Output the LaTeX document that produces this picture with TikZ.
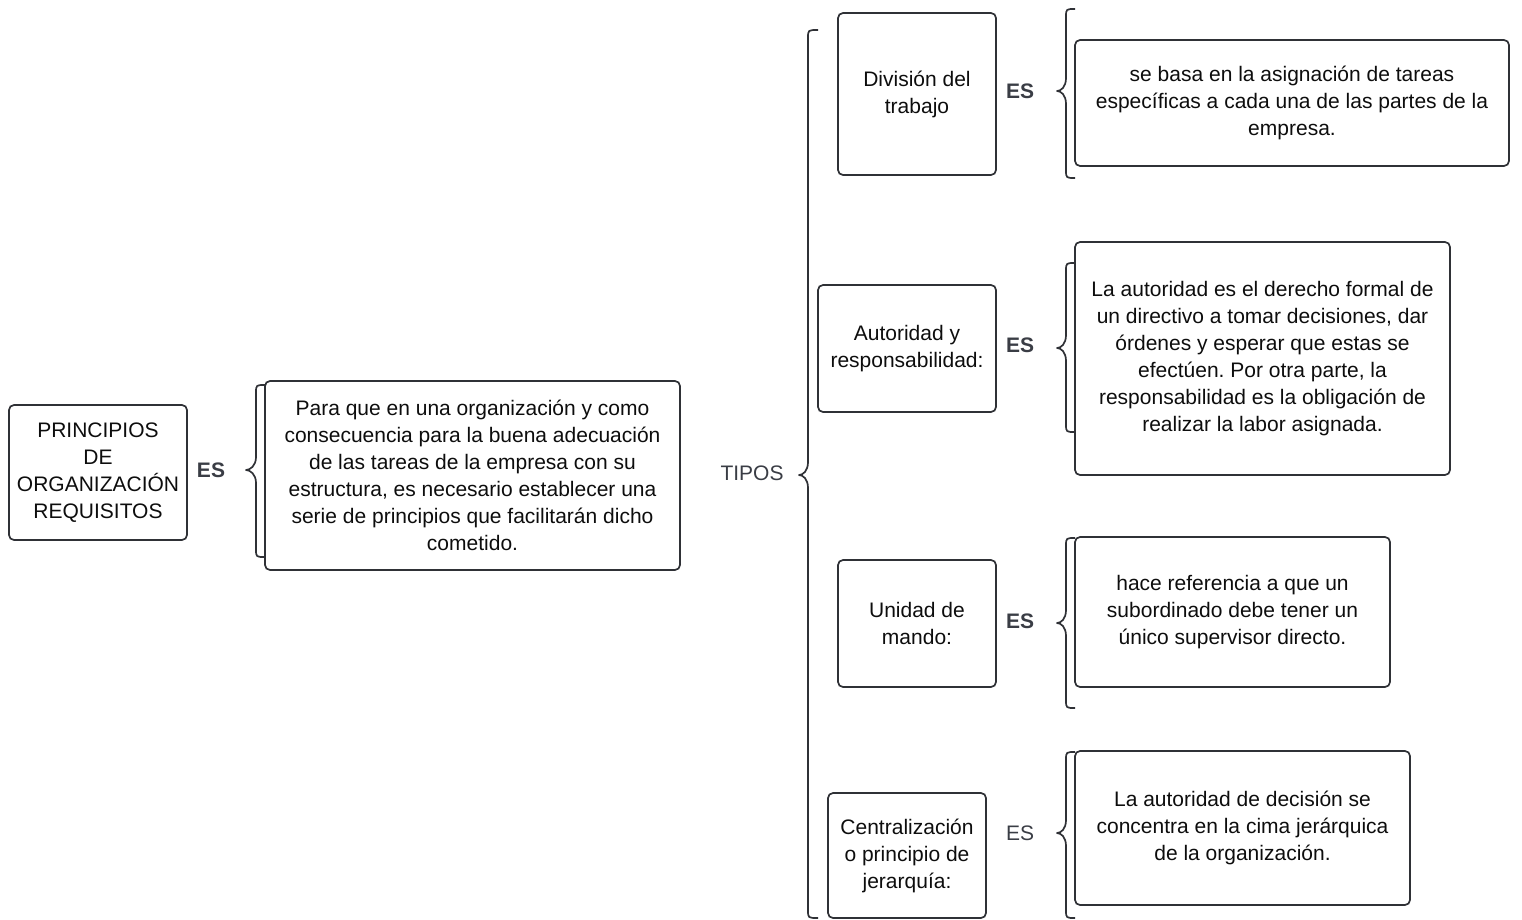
\documentclass[tikz,border=0pt]{standalone}
\usepackage{fontspec}
\setmainfont{Liberation Sans}
\frenchspacing
\definecolor{boxc}{HTML}{2F3136}
\definecolor{esc}{HTML}{3A3D45}
\definecolor{txt}{HTML}{0D0D0D}
\newcommand\curly[6]{% tip x, mid x, right x, top y, mid y, bottom y
  \draw[brc] (#3,#4) .. controls (#2,#4) .. ({#2},{#4+8}) -- ({#2},{#5-13})
    .. controls ({#2},{#5-4}) and ({#1+4},{#5}) .. (#1,#5)
    .. controls ({#1+4},{#5}) and ({#2},{#5+4}) .. ({#2},{#5+13})
    -- ({#2},{#6-8}) .. controls (#2,#6) .. (#3,#6);}
\begin{document}
\begin{tikzpicture}[x=1pt,y=-1pt,
  box/.style={draw=boxc, line width=1.7pt, rounded corners=5pt, inner sep=0pt,
    align=center, text=txt, font=\fontsize{21}{27}\selectfont},
  eslabel/.style={text=esc, font=\fontsize{21}{24}\selectfont\bfseries},
  esplain/.style={text=esc, font=\fontsize{21}{24}\selectfont},
  brc/.style={draw=boxc, line width=1.7pt, line join=round}]
\useasboundingbox (0,0) rectangle (1522,920);

% left part
\node[box, minimum width=178pt, minimum height=135pt] (root) at (98,472.5)
  {PRINCIPIOS\\DE\\ORGANIZACIÓN\\REQUISITOS};
\node[eslabel] (es0) at (211,470) {ES};
\curly{246}{256}{265}{385}{470}{557}
\node[box, minimum width=415pt, minimum height=189pt] (def) at (472.5,475.5)
  {Para que en una organización y como\\consecuencia para la buena adecuación\\de las tareas de la empresa con su\\estructura, es necesario establecer una\\serie de principios que facilitarán dicho\\cometido.};

\node[esplain] (tipos) at (752,473) {TIPOS};
\curly{799}{808}{818}{30}{475}{918}

% type 1
\node[box, minimum width=158pt, minimum height=162pt] (t1) at (917,94)
  {División del\\trabajo};
\node[eslabel] (es1) at (1020,91) {ES};
\curly{1057}{1066}{1075}{9}{91}{178}
\node[box, minimum width=434pt, minimum height=126pt] (d1) at (1292,103)
  {se basa en la asignación de tareas\\específicas a cada una de las partes de la\\empresa.};

% type 2
\node[box, minimum width=178pt, minimum height=127pt] (t2) at (907,348.5)
  {Autoridad y\\responsabilidad:};
\node[eslabel] (es2) at (1020,345) {ES};
\curly{1057}{1066}{1075}{263}{348}{432}
\node[box, minimum width=375pt, minimum height=233pt] (d2) at (1262.5,358.5)
  {La autoridad es el derecho formal de\\un directivo a tomar decisiones, dar\\órdenes y esperar que estas se\\efectúen. Por otra parte, la\\responsabilidad es la obligación de\\realizar la labor asignada.};

% type 3
\node[box, minimum width=158pt, minimum height=127pt] (t3) at (917,623.5)
  {Unidad de\\mando:};
\node[eslabel] (es3) at (1020,621) {ES};
\curly{1057}{1066}{1075}{538}{623}{708}
\node[box, minimum width=315pt, minimum height=150pt] (d3) at (1232.5,612)
  {hace referencia a que un\\subordinado debe tener un\\único supervisor directo.};

% type 4
\node[box, minimum width=158pt, minimum height=125pt] (t4) at (907,855.5)
  {Centralización\\o principio de\\jerarquía:};
\node[esplain] (es4) at (1020,833) {ES};
\curly{1057}{1066}{1075}{752}{833}{918}
\node[box, minimum width=335pt, minimum height=154pt] (d4) at (1242.5,828)
  {La autoridad de decisión se\\concentra en la cima jerárquica\\de la organización.};
\end{tikzpicture}
\end{document}
